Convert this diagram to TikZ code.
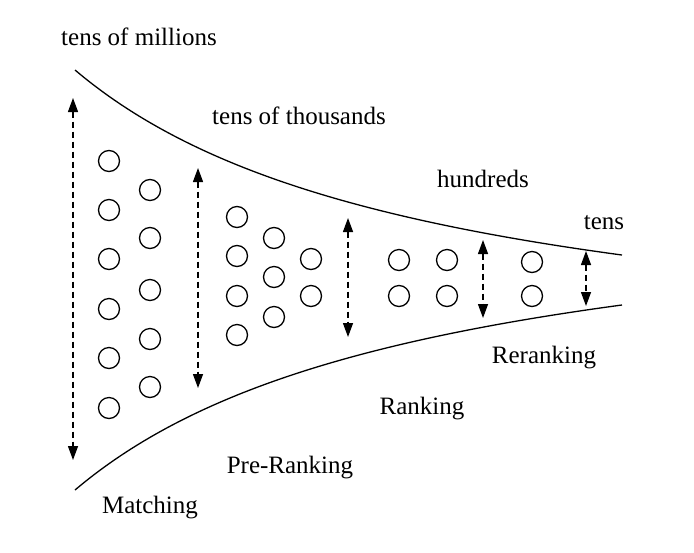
\documentclass[tikz,border=0pt]{standalone}
\usepackage{fontspec}
\setmainfont{Liberation Serif}
\usetikzlibrary{arrows.meta}

\begin{document}
\begin{tikzpicture}[
    x=0.5pt, y=-0.5pt,
    line width=0.65pt,
    every node/.style={inner sep=0pt, font=\fontsize{12.5}{15}\selectfont, anchor=base},
    item/.style={draw, circle, minimum size=10.5pt, anchor=center},
    span/.style={dash pattern=on 3pt off 2pt, {Triangle[length=7pt,width=5pt]}-{Triangle[length=7pt,width=5pt]}}
]
\useasboundingbox (0,0) rectangle (694,552);

% funnel
\draw plot[smooth, samples=60, domain=75:622] (\x, {378.3 - 1123.71/((\x+289.5)/100)});
\draw plot[smooth, samples=60, domain=75:622] (\x, {181.7 + 1123.71/((\x+289.5)/100)});

% candidates
\node[item] (a1) at (109,161) {}; \node[item] (a2) at (109,210) {};
\node[item] (a3) at (109,259) {}; \node[item] (a4) at (109,309) {};
\node[item] (a5) at (109,358) {}; \node[item] (a6) at (109,408) {};
\node[item] (b1) at (150,190) {}; \node[item] (b2) at (150,238) {};
\node[item] (b3) at (150,290) {}; \node[item] (b4) at (150,339) {};
\node[item] (b5) at (150,387) {};
\node[item] (c1) at (237,217) {}; \node[item] (c2) at (237,256) {};
\node[item] (c3) at (237,296) {}; \node[item] (c4) at (237,335) {};
\node[item] (d1) at (274,238) {}; \node[item] (d2) at (274,277) {};
\node[item] (d3) at (274,317) {};
\node[item] (e1) at (311,259) {}; \node[item] (e2) at (311,296) {};
\node[item] (f1) at (399,260) {}; \node[item] (f2) at (399,296) {};
\node[item] (g1) at (447,260) {}; \node[item] (g2) at (447,296) {};
\node[item] (h1) at (532,262) {}; \node[item] (h2) at (532,296) {};

% stage widths
\coordinate (w1t) at (73,98);  \coordinate (w1b) at (73,460);
\coordinate (w2t) at (198,168); \coordinate (w2b) at (198,388);
\coordinate (w3t) at (348,218); \coordinate (w3b) at (348,337);
\coordinate (w4t) at (483,240); \coordinate (w4b) at (483,318);
\coordinate (w5t) at (586,251); \coordinate (w5b) at (586,306);
\draw[span] (w1t) -- (w1b);
\draw[span] (w2t) -- (w2b);
\draw[span] (w3t) -- (w3b);
\draw[span] (w4t) -- (w4b);
\draw[span] (w5t) -- (w5b);

% sizes
\node (millions) at (139,45) {tens of millions};
\node (thousands) at (299,124) {tens of thousands};
\node (hundreds) at (483,187) {hundreds};
\node (tens) at (604,229) {tens};

% stages
\node (matching) at (150,513) {Matching};
\node (preranking) at (290,473) {Pre-Ranking};
\node (ranking) at (422,414) {Ranking};
\node (reranking) at (544,363) {Reranking};
\end{tikzpicture}
\end{document}
